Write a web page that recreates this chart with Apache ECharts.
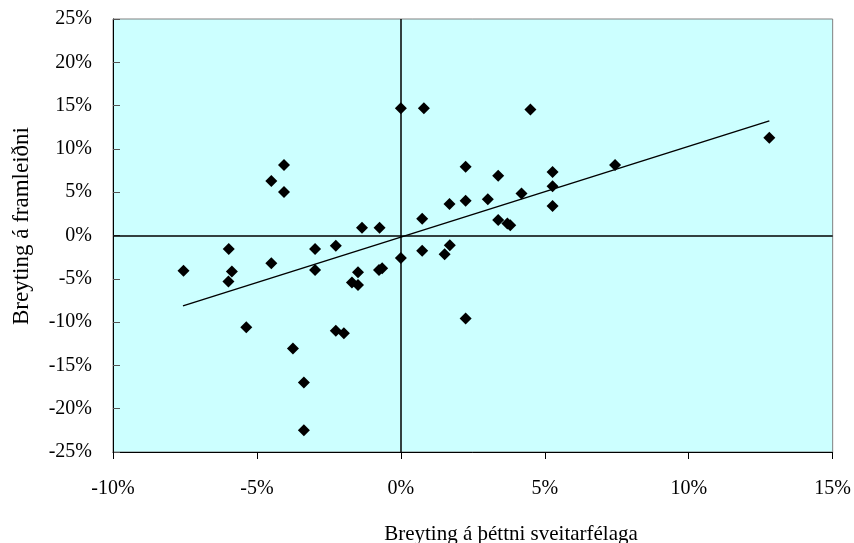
<!DOCTYPE html>
<html>
<head>
<meta charset="utf-8">
<script src="https://cdn.jsdelivr.net/npm/echarts@6/dist/echarts.min.js"></script>
<style>html,body{margin:0;padding:0;background:#fff}#c{width:854px;height:543px}</style>
</head>
<body>
<div id="c"></div>
<script>
// Breyting á þéttni sveitarfélaga (%) vs Breyting á framleiðni (%)
var densityChange = [0, 0.8, -4.06, -4.5, -4.06, -1.35, -0.74, 0.74, 1.69, 2.25, 2.25, 4.5, 12.8, 7.44, 3.38, 5.27, 5.27, 4.19, 3.02, 5.27, 3.38, 3.7, 3.8, 1.7, 1.52, -7.55, -5.98, -5.87, -5.99, -4.5, -2.98, -2.26, -2.98, -1.49, -1.70, -1.49, -0.76, -0.65, 0, 0.74, 2.25, -5.37, -2.26, -1.98, -3.75, -3.37, -3.37];
var productivityChange = [14.7, 14.7, 8.13, 6.28, 5.02, 0.9, 0.9, 1.94, 3.63, 4.02, 7.94, 14.55, 11.28, 8.13, 6.9, 7.32, 5.7, 4.86, 4.2, 3.4, 1.79, 1.4, 1.17, -1.13, -2.17, -4.06, -1.56, -4.17, -5.32, -3.21, -1.56, -1.17, -3.98, -4.25, -5.44, -5.71, -3.98, -3.79, -2.6, -1.75, -9.59, -10.59, -11.0, -11.28, -13.05, -16.97, -22.5];
var trendX = [-7.57, 12.8];
var trendY = [-8.13, 13.24];
var xTicks = [-10, -5, 0, 5, 10, 15];
var yTicks = [-25, -20, -15, -10, -5, 0, 5, 10, 15, 20, 25];
var xTitle = 'Breyting á þéttni sveitarfélaga';
var yTitle = 'Breyting á framleiðni';

var pts = densityChange.map(function (x, i) { return [x, productivityChange[i]]; });
var trend = trendX.map(function (x, i) { return [x, trendY[i]]; });
var font = '"Liberation Serif", "Times New Roman", serif';

var chart = echarts.init(document.getElementById('c'), null, {renderer: 'canvas'});
chart.setOption({
  animation: false,
  backgroundColor: '#ffffff',
  grid: {left: 113, right: 21, top: 19, bottom: 91, show: true, backgroundColor: '#CCFFFF', borderColor: '#808080', borderWidth: 1},
  xAxis: {
    type: 'value', min: xTicks[0], max: xTicks[xTicks.length - 1], interval: 5,
    splitLine: {show: false},
    axisLine: {show: true, onZero: false, lineStyle: {color: '#000', width: 1}},
    axisTick: {show: true, inside: false, length: 7, lineStyle: {color: '#000'}},
    axisLabel: {formatter: '{value}%', color: '#000', fontFamily: font, fontSize: 20, margin: 27}
  },
  yAxis: {
    type: 'value', min: yTicks[0], max: yTicks[yTicks.length - 1], interval: 5,
    splitLine: {show: false},
    axisLine: {show: true, onZero: false, lineStyle: {color: '#000', width: 1}},
    axisTick: {show: true, inside: true, length: 7, lineStyle: {color: '#555'}},
    axisLabel: {formatter: '{value}%', color: '#000', fontFamily: font, fontSize: 20, margin: 21}
  },
  graphic: [
    {
      type: 'text', x: 511, y: 534, z: 10,
      style: {text: xTitle, fill: '#000', font: '21px "Liberation Serif", serif', align: 'center', verticalAlign: 'middle'}
    },
    {
      type: 'text', x: 22, y: 226, rotation: Math.PI / 2, z: 10,
      style: {text: yTitle, fill: '#000', font: '23px "Liberation Serif", serif', align: 'center', verticalAlign: 'middle'}
    }
  ],
  series: [
    {
      type: 'scatter', data: pts, symbol: 'diamond', symbolSize: 12,
      itemStyle: {color: '#000', opacity: 1}, z: 5,
      markLine: {
        silent: true, symbol: 'none', label: {show: false},
        lineStyle: {color: '#000', width: 1.5, type: 'solid'},
        data: [{xAxis: 0}, {yAxis: 0}]
      }
    },
    {
      type: 'line', data: trend, showSymbol: false, symbol: 'none',
      lineStyle: {color: '#000', width: 1.5}, z: 4
    }
  ]
});
</script>
</body>
</html>
